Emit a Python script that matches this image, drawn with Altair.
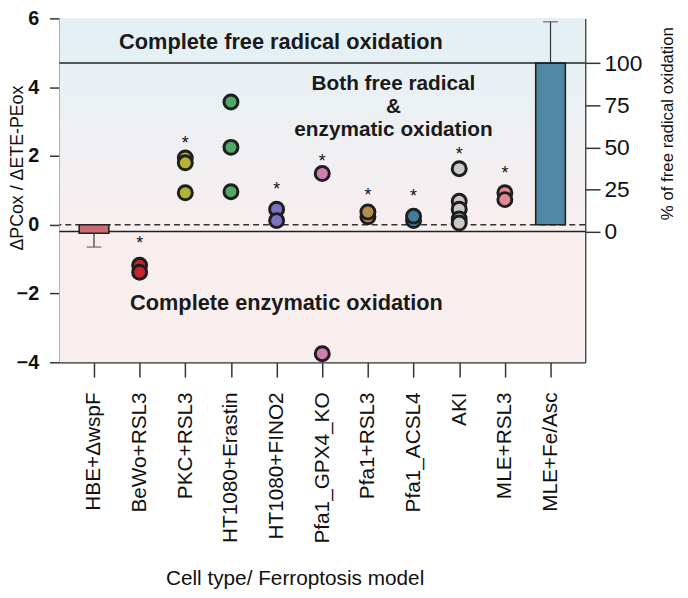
import altair as alt
import pandas as pd

# ---------------- data ----------------
categories = ["HBE+ΔwspF", "BeWo+RSL3", "PKC+RSL3", "HT1080+Erastin", "HT1080+FINO2",
              "Pfa1_GPX4_KO", "Pfa1+RSL3", "Pfa1_ACSL4", "AKI", "MLE+RSL3", "MLE+Fe/Asc"]
cat_colors = ["#cc6a72", "#c8242c", "#b4b230", "#52a865", "#7c72c0",
              "#d07db5", "#b38e4b", "#3e7d9e", "#c9c9c9", "#e08a92", "#4f87a4"]

bar_cats = ["HBE+ΔwspF", "MLE+Fe/Asc"]
bar_vals = [-0.25, 4.7]
bar_err = [-0.65, 5.9]

point_cats = ["BeWo+RSL3", "BeWo+RSL3",
              "PKC+RSL3", "PKC+RSL3", "PKC+RSL3",
              "HT1080+Erastin", "HT1080+Erastin", "HT1080+Erastin",
              "HT1080+FINO2", "HT1080+FINO2",
              "Pfa1_GPX4_KO", "Pfa1_GPX4_KO",
              "Pfa1+RSL3", "Pfa1+RSL3",
              "Pfa1_ACSL4", "Pfa1_ACSL4",
              "AKI", "AKI", "AKI", "AKI", "AKI",
              "MLE+RSL3", "MLE+RSL3"]
point_vals = [-1.18, -1.38,
              1.94, 1.80, 0.93,
              3.57, 2.25, 0.96,
              0.45, 0.12,
              1.49, -3.75,
              0.23, 0.37,
              0.12, 0.25,
              1.63, 0.68, 0.45, 0.17, 0.05,
              0.93, 0.73]

star_cats = ["BeWo+RSL3", "PKC+RSL3", "HT1080+FINO2", "Pfa1_GPX4_KO",
             "Pfa1+RSL3", "Pfa1_ACSL4", "AKI", "MLE+RSL3"]
star_vals = [-0.45, 2.45, 1.13, 1.94, 0.96, 0.93, 2.14, 1.58]

ann_texts = ["Complete free radical oxidation", "Complete enzymatic oxidation",
             "Both free radical", "&", "enzymatic oxidation"]
ann_x = [0.55, 0.79, 6.56, 6.56, 6.56]
ann_y = [5.3, -2.28, 4.08, 3.42, 2.76]
ann_align = ["left", "left", "center", "center", "center"]
ann_size = [22, 22, 21, 21, 21]

right_ticks = [0, 25, 50, 75, 100]

# region boundaries (left-axis units)
YMIN, YMAX = -4, 6
LOW, HIGH = -0.2, 4.7

W, H = 532, 348
FONT = "Arial"

idx = {c: i for i, c in enumerate(categories)}
color_of = dict(zip(categories, cat_colors))

bars_df = pd.DataFrame({"cat": bar_cats, "val": bar_vals, "err": bar_err})
bars_df["i"] = bars_df["cat"].map(idx)
bars_df["color"] = bars_df["cat"].map(color_of)

pts_df = pd.DataFrame({"cat": point_cats, "val": point_vals})
pts_df["i"] = pts_df["cat"].map(idx)
pts_df["color"] = pts_df["cat"].map(color_of)
pts_df["order"] = range(len(pts_df))

stars_df = pd.DataFrame({"cat": star_cats, "val": star_vals})
stars_df["i"] = stars_df["cat"].map(idx)

ann_df = pd.DataFrame({"t": ann_texts, "x": ann_x, "y": ann_y, "a": ann_align, "s": ann_size})

label_arr = "[" + ",".join("'" + c + "'" for c in categories) + "]"

xscale = alt.Scale(domain=[-0.65, 10.65], nice=False, zero=False)
yscale = alt.Scale(domain=[YMIN, YMAX], nice=False, zero=False)

x_axis = alt.Axis(values=list(range(len(categories))), labelExpr=label_arr + "[datum.value]",
                  labelAngle=270, labelAlign="right", labelBaseline="middle",
                  labelFontSize=21, labelFont=FONT, labelColor="#111", labelPadding=15,
                  tickSize=15, tickColor="#333", tickWidth=1.5,
                  domainColor="#333", domainWidth=1.5, grid=False,
                  title="Cell type/ Ferroptosis model", titleFont=FONT, titleFontSize=21,
                  titleFontWeight="normal", titleColor="#111",
                  titleX=238, titleY=225, titleAlign="center", titleBaseline="alphabetic",
                  labelOverlap=False, labelFlush=False)

y_axis = alt.Axis(values=[-4, -2, 0, 2, 4, 6], labelFontSize=20, labelFontWeight="bold",
                  labelFont=FONT, labelColor="#111", labelPadding=11,
                  tickSize=10, tickColor="#333", tickWidth=1.5,
                  domainColor="#333", domainWidth=1.5, grid=False,
                  title="ΔPCox / ΔETE-PEox", titleFont=FONT, titleFontSize=18,
                  titleFontWeight="normal", titleColor="#111",
                  titleX=-37, titleY=151, titleAngle=270, titleAlign="center",
                  titleBaseline="alphabetic", labelFlush=False)

X = alt.X("i:Q", scale=xscale, axis=x_axis)

# backgrounds
bg_top = alt.Chart(pd.DataFrame({"a": [HIGH], "b": [YMAX]})).mark_rect(color="#e5f0f4").encode(
    y=alt.Y("a:Q", scale=yscale, axis=y_axis), y2="b:Q", x=alt.value(0), x2=alt.value(W))
bg_mid = alt.Chart(pd.DataFrame({"a": [LOW], "b": [HIGH]})).mark_rect(
    color=alt.Gradient(gradient="linear", x1=0, x2=0, y1=0, y2=1,
                       stops=[alt.GradientStop(offset=0, color="#e7f1f4"),
                              alt.GradientStop(offset=1, color="#f8eeef")])).encode(
    y=alt.Y("a:Q", scale=yscale), y2="b:Q", x=alt.value(0), x2=alt.value(W))
bg_bot = alt.Chart(pd.DataFrame({"a": [YMIN], "b": [LOW]})).mark_rect(color="#f8eeee").encode(
    y=alt.Y("a:Q", scale=yscale), y2="b:Q", x=alt.value(0), x2=alt.value(W))

solid = alt.Chart(pd.DataFrame({"v": [LOW, HIGH]})).mark_rule(color="#222", strokeWidth=1.5).encode(
    y=alt.Y("v:Q", scale=yscale))
dashed = alt.Chart(pd.DataFrame({"v": [0]})).mark_rule(color="#333", strokeWidth=1.5,
                                                        strokeDash=[6, 4]).encode(
    y=alt.Y("v:Q", scale=yscale))

err_rule = alt.Chart(bars_df).mark_rule(color="#333", strokeWidth=1.2).encode(
    x=X, y=alt.Y("val:Q", scale=yscale), y2="err:Q")
err_cap = alt.Chart(bars_df).mark_tick(color="#333", thickness=1.2, size=15,
                                       orient="horizontal").encode(
    x=X, y=alt.Y("err:Q", scale=yscale))
bars = alt.Chart(bars_df).mark_bar(size=30, stroke="#222", strokeWidth=1.6).encode(
    x=X, y=alt.Y("val:Q", scale=yscale), y2=alt.datum(0),
    color=alt.Color("color:N", scale=None))

points = alt.Chart(pts_df).mark_point(filled=True, shape="circle", size=200,
                                      stroke="#1e1e1e", strokeWidth=3, opacity=1).encode(
    x=X, y=alt.Y("val:Q", scale=yscale),
    fill=alt.Fill("color:N", scale=None), order="order:Q")

stars = alt.Chart(stars_df).mark_text(text="*", fontSize=18, font=FONT, color="#111",
                                      baseline="middle", dy=4).encode(
    x=X, y=alt.Y("val:Q", scale=yscale))

ann_layers = []
for al in ["left", "center"]:
    ann_layers.append(
        alt.Chart(ann_df[ann_df["a"] == al]).mark_text(font=FONT, fontWeight="bold",
                                                       color="#1a1a1a", align=al,
                                                       baseline="middle").encode(
            x=alt.X("x:Q", scale=xscale), y=alt.Y("y:Q", scale=yscale), text="t:N",
            size=alt.Size("s:Q", scale=None)))

left_layer = alt.layer(bg_top, bg_mid, bg_bot, solid, dashed, err_rule, err_cap, bars,
                       points, stars, *ann_layers)

pct_lo = (YMIN - LOW) / (HIGH - LOW) * 100
pct_hi = (YMAX - LOW) / (HIGH - LOW) * 100
right_layer = alt.Chart(pd.DataFrame({"r": right_ticks})).mark_rule(opacity=0).encode(
    y=alt.Y("r:Q", scale=alt.Scale(domain=[pct_lo, pct_hi], nice=False, zero=False),
            axis=alt.Axis(orient="right", values=right_ticks, labelFontSize=23, labelFont=FONT,
                          labelColor="#111", labelPadding=4, tickSize=15, tickColor="#333",
                          tickWidth=1.5, domainColor="#333", domainWidth=1.5, grid=False,
                          title="% of free radical oxidation", titleFont=FONT, titleFontSize=17,
                          titleFontWeight="normal", titleColor="#111", titleAngle=270,
                          titleX=88, titleY=106, titleAlign="center",
                          titleBaseline="alphabetic", labelFlush=False)))

chart = alt.layer(left_layer, right_layer).resolve_scale(y="independent").properties(
    width=W, height=H, autosize=alt.AutoSizeParams(type="none"),
    padding={"left": 52, "top": 7, "right": 96, "bottom": 235}
).configure_view(stroke=None).configure(background="white")

chart.save("out.html", embed_options={"renderer": "svg", "actions": False})
